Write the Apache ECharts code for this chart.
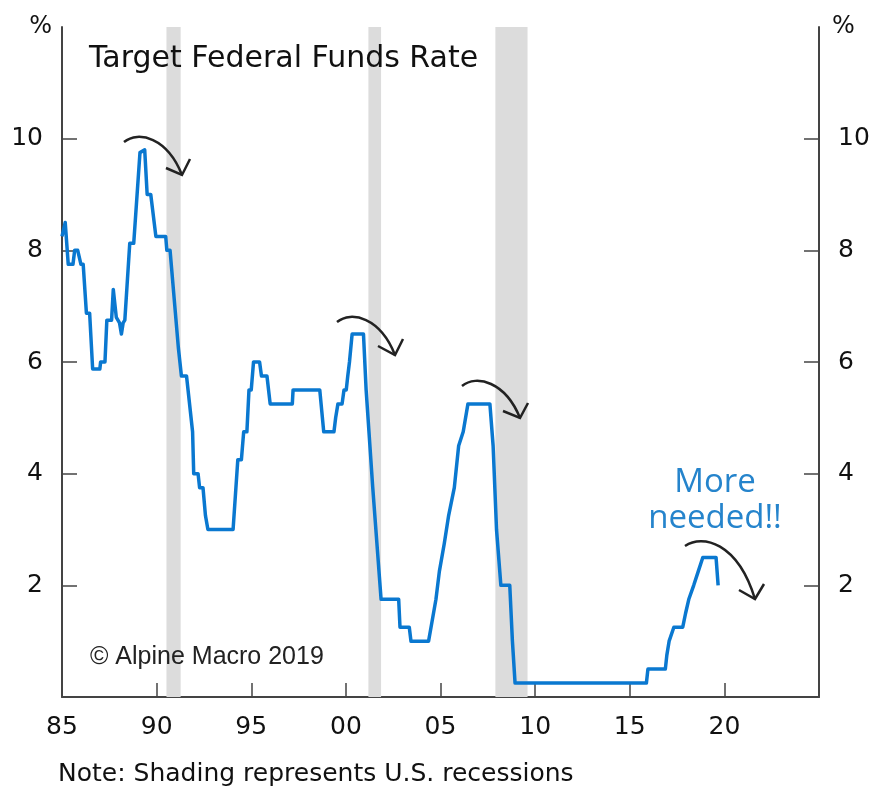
<!DOCTYPE html>
<html>
<head>
<meta charset="utf-8">
<script src="https://cdn.jsdelivr.net/npm/echarts@6.0.0/dist/echarts.min.js"></script>
<style>
  html, body { margin: 0; padding: 0; background: #fff; }
  #chart { width: 884px; height: 788px; }
</style>
</head>
<body>
<div id="chart"></div>
<script>
// target federal funds rate, vertices (decimal year, %)
const dates = [
  1985.00, 1985.17, 1985.33, 1985.58, 1985.67, 1985.83, 1986.00, 1986.12, 1986.29, 1986.46,
  1986.62, 1987.00, 1987.04, 1987.27, 1987.37, 1987.62, 1987.71, 1987.79, 1987.87, 1988.04,
  1988.14, 1988.23, 1988.32, 1988.58, 1988.79, 1989.12, 1989.37, 1989.50, 1989.69, 1989.96,
  1990.48, 1990.54, 1990.71, 1991.15, 1991.31, 1991.58, 1991.90, 1991.96, 1992.19, 1992.27,
  1992.45, 1992.58, 1992.71, 1994.04, 1994.29, 1994.48, 1994.60, 1994.77, 1994.88, 1995.00,
  1995.12, 1995.44, 1995.54, 1995.83, 1996.00, 1997.17, 1997.21, 1998.62, 1998.83, 1999.37,
  1999.46, 1999.58, 1999.80, 1999.90, 2000.02, 2000.10, 2000.19, 2000.33, 2000.93, 2001.07,
  2001.42, 2001.86, 2002.79, 2002.86, 2003.35, 2003.44, 2004.37, 2004.50, 2004.76, 2004.94,
  2005.20, 2005.43, 2005.73, 2005.96, 2006.20, 2006.45, 2007.61, 2007.78, 2007.96, 2008.19,
  2008.66, 2008.80, 2008.94, 2015.88, 2015.96, 2016.88, 2016.96, 2017.08, 2017.33, 2017.80,
  2017.95, 2018.12, 2018.38, 2018.62, 2018.86, 2019.56, 2019.67
];
const rates = [
  8.25, 8.5, 7.75, 7.75, 8.0, 8.0, 7.75, 7.75, 6.875, 6.875,
  5.875, 5.875, 6.0, 6.0, 6.75, 6.75, 7.3, 7.3, 6.8, 6.7,
  6.5, 6.7, 6.75, 8.125, 8.125, 9.75, 9.8, 9.0, 9.0, 8.25,
  8.25, 8.0, 8.0, 6.25, 5.75, 5.75, 4.75, 4.0, 4.0, 3.75,
  3.75, 3.25, 3.0, 3.0, 4.25, 4.25, 4.75, 4.75, 5.5, 5.5,
  6.0, 6.0, 5.75, 5.75, 5.25, 5.25, 5.5, 5.5, 4.75, 4.75,
  5.0, 5.25, 5.25, 5.5, 5.5, 5.75, 6.0, 6.5, 6.5, 5.5,
  3.75, 1.75, 1.75, 1.25, 1.25, 1.0, 1.0, 1.25, 1.75, 2.25,
  2.75, 3.25, 3.75, 4.5, 4.75, 5.25, 5.25, 4.5, 3.0, 2.0,
  2.0, 1.0, 0.25, 0.25, 0.5, 0.5, 0.75, 1.0, 1.25, 1.25,
  1.5, 1.75, 2.0, 2.25, 2.5, 2.5, 2.0
];

// U.S. recessions (shaded)
const recessionStart = [1990.52, 2001.19, 2007.90];
const recessionEnd = [1991.27, 2001.86, 2009.60];

const xLabelYears = [1985, 1990, 1995, 2000, 2005, 2010, 2015, 2020];
const xTickYears = [1990, 1995, 2000, 2005, 2010, 2015, 2020];
const yTicks = [2, 4, 6, 8, 10];

const AXIS = '#444';
const BLUE = '#0a78d0';
const FONT = 'DejaVu Sans';

const chart = echarts.init(document.getElementById('chart'), null, { renderer: 'canvas' });

const yAxisBase = {
  type: 'value', min: 0, max: 12, interval: 2,
  name: '%',
  nameLocation: 'end',
  nameGap: 0,
  axisLine: { show: true, lineStyle: { color: AXIS, width: 2 } },
  axisTick: { show: true, inside: true, length: 15, customValues: yTicks, lineStyle: { color: AXIS, width: 1.5 } },
  axisLabel: { customValues: yTicks, fontFamily: FONT, fontSize: 25, color: '#111', margin: 19 },
  splitLine: { show: false }
};

// curved "turning" arrow: start, tip, and the two barbs of the head
function arrow(sx, sy, ex, ey, lx, ly, rx, ry) {
  const dx = ex - sx;
  return [
    {
      type: 'bezierCurve', z: 100,
      shape: {
        x1: sx, y1: sy, x2: ex, y2: ey,
        cpx1: sx + 0.25 * dx, cpy1: sy - 12,
        cpx2: sx + 0.75 * dx, cpy2: sy - 4
      },
      style: { stroke: '#222', lineWidth: 2.5, fill: null }
    },
    {
      type: 'polyline', z: 100,
      shape: { points: [[lx, ly], [ex, ey], [rx, ry]] },
      style: { stroke: '#222', lineWidth: 2.5, fill: null, lineJoin: 'miter' }
    }
  ];
}

chart.setOption({
  animation: false,
  backgroundColor: '#fff',
  grid: { left: 62, right: 65, top: 27, bottom: 91, containLabel: false },
  xAxis: {
    type: 'value', min: 1985, max: 2025, interval: 5,
    axisLine: { show: true, lineStyle: { color: AXIS, width: 2 } },
    axisTick: { show: true, inside: true, length: 14, customValues: xTickYears, lineStyle: { color: AXIS, width: 1.5 } },
    axisLabel: {
      customValues: xLabelYears,
      formatter: v => String(v).slice(2),
      fontFamily: FONT, fontSize: 25, color: '#111', margin: 18
    },
    splitLine: { show: false }
  },
  yAxis: [
    Object.assign({}, yAxisBase, {
      position: 'left',
      nameTextStyle: { fontFamily: FONT, fontSize: 24, color: '#111', align: 'right', verticalAlign: 'middle', padding: [0, 10, 0, 0] }
    }),
    Object.assign({}, yAxisBase, {
      position: 'right',
      nameTextStyle: { fontFamily: FONT, fontSize: 24, color: '#111', align: 'left', verticalAlign: 'middle', padding: [0, 0, 0, 13] }
    })
  ],
  series: [
    {
      type: 'custom',
      z: 1,
      silent: true,
      data: recessionStart.map((s, i) => [s, recessionEnd[i]]),
      renderItem: (params, api) => {
        const p0 = api.coord([api.value(0), 12]);
        const p1 = api.coord([api.value(1), 0]);
        return {
          type: 'rect',
          shape: { x: p0[0], y: p0[1], width: p1[0] - p0[0], height: p1[1] - p0[1] },
          style: { fill: '#dcdcdc' }
        };
      }
    },
    {
      type: 'line',
      z: 3,
      data: dates.map((d, i) => [d, rates[i]]),
      showSymbol: false,
      lineStyle: { color: BLUE, width: 3.5, join: 'round' }
    }
  ],
  graphic: [
    {
      type: 'text', x: 89, y: 59, z: 100,
      style: { text: 'Target Federal Funds Rate', font: '30px "DejaVu Sans"', fill: '#111', textVerticalAlign: 'middle' }
    },
    {
      type: 'text', x: 90, y: 657, z: 100,
      style: { text: '\u00A9 Alpine Macro 2019', font: '25px "Liberation Sans"', fill: '#222', textVerticalAlign: 'middle' }
    },
    {
      type: 'text', x: 58, y: 774, z: 100,
      style: { text: 'Note: Shading represents U.S. recessions', font: '25px "DejaVu Sans"', fill: '#111', textVerticalAlign: 'middle' }
    },
    {
      type: 'text', x: 715, y: 501, z: 100,
      style: {
        text: 'More\nneeded!!', font: '33px "Open Sans"', fill: '#2584cc',
        textAlign: 'center', textVerticalAlign: 'middle', lineHeight: 36
      }
    }
  ]
    .concat(arrow(124, 142, 182, 175, 166, 168, 190, 159))
    .concat(arrow(337, 322, 395, 355, 378, 346, 403, 339))
    .concat(arrow(462, 386, 520, 418, 503, 411, 528, 403))
    .concat(arrow(685, 546, 755, 599, 739, 590, 764, 584))
});
</script>
</body>
</html>
